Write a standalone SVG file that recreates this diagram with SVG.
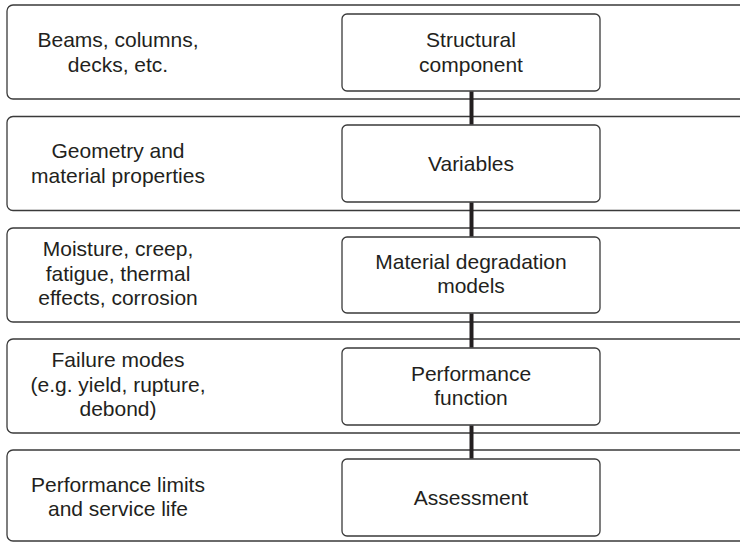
<svg xmlns="http://www.w3.org/2000/svg" width="740" height="544" viewBox="0 0 740 544">
<style>
.row{fill:#fff;stroke:#3a3a3a;stroke-width:1.3}
.box{fill:#fff;stroke:#3a3a3a;stroke-width:1.3}
.t{font-family:"Liberation Sans",Arial,sans-serif;font-size:21px;fill:#231f20;text-anchor:middle}
.c{stroke:#231f20;stroke-width:4;fill:none}
</style>
<rect width="740" height="544" fill="#fff"/>
<g id="row1"><rect class="row" x="7" y="5" width="760" height="94" rx="6"/>
<text class="t" x="118" y="47">Beams, columns,</text><text class="t" x="118" y="71.5">decks, etc.</text></g>
<g id="row2"><rect class="row" x="7" y="116.5" width="760" height="94" rx="6"/>
<text class="t" x="118" y="158">Geometry and</text><text class="t" x="118" y="182.5">material properties</text></g>
<g id="row3"><rect class="row" x="7" y="228" width="760" height="94" rx="6"/>
<text class="t" x="118" y="256">Moisture, creep,</text><text class="t" x="118" y="280.5">fatigue, thermal</text><text class="t" x="118" y="305">effects, corrosion</text></g>
<g id="row4"><rect class="row" x="7" y="339" width="760" height="94" rx="6"/>
<text class="t" x="118" y="367">Failure modes</text><text class="t" x="118" y="391.5">(e.g. yield, rupture,</text><text class="t" x="118" y="416">debond)</text></g>
<g id="row5"><rect class="row" x="7" y="450" width="760" height="91" rx="6"/>
<text class="t" x="118" y="491.5">Performance limits</text><text class="t" x="118" y="516">and service life</text></g>
<g id="n1"><rect class="box" x="342" y="14" width="258" height="77" rx="5"/>
<text class="t" x="471" y="47">Structural</text><text class="t" x="471" y="71.5">component</text></g>
<g id="n2"><rect class="box" x="342" y="125" width="258" height="77" rx="5"/>
<text class="t" x="471" y="171">Variables</text></g>
<g id="n3"><rect class="box" x="342" y="237" width="258" height="76" rx="5"/>
<text class="t" x="471" y="268.5">Material degradation</text><text class="t" x="471" y="293">models</text></g>
<g id="n4"><rect class="box" x="342" y="348" width="258" height="77" rx="5"/>
<text class="t" x="471" y="380.5">Performance</text><text class="t" x="471" y="405">function</text></g>
<g id="n5"><rect class="box" x="342" y="459" width="258" height="77" rx="5"/>
<text class="t" x="471" y="505">Assessment</text></g>
<g id="connectors">
<line class="c" x1="471.5" y1="91.5" x2="471.5" y2="124.5"/>
<line class="c" x1="471.5" y1="202.5" x2="471.5" y2="236.5"/>
<line class="c" x1="471.5" y1="313.5" x2="471.5" y2="347.5"/>
<line class="c" x1="471.5" y1="425.5" x2="471.5" y2="458.5"/>
</g>
</svg>
